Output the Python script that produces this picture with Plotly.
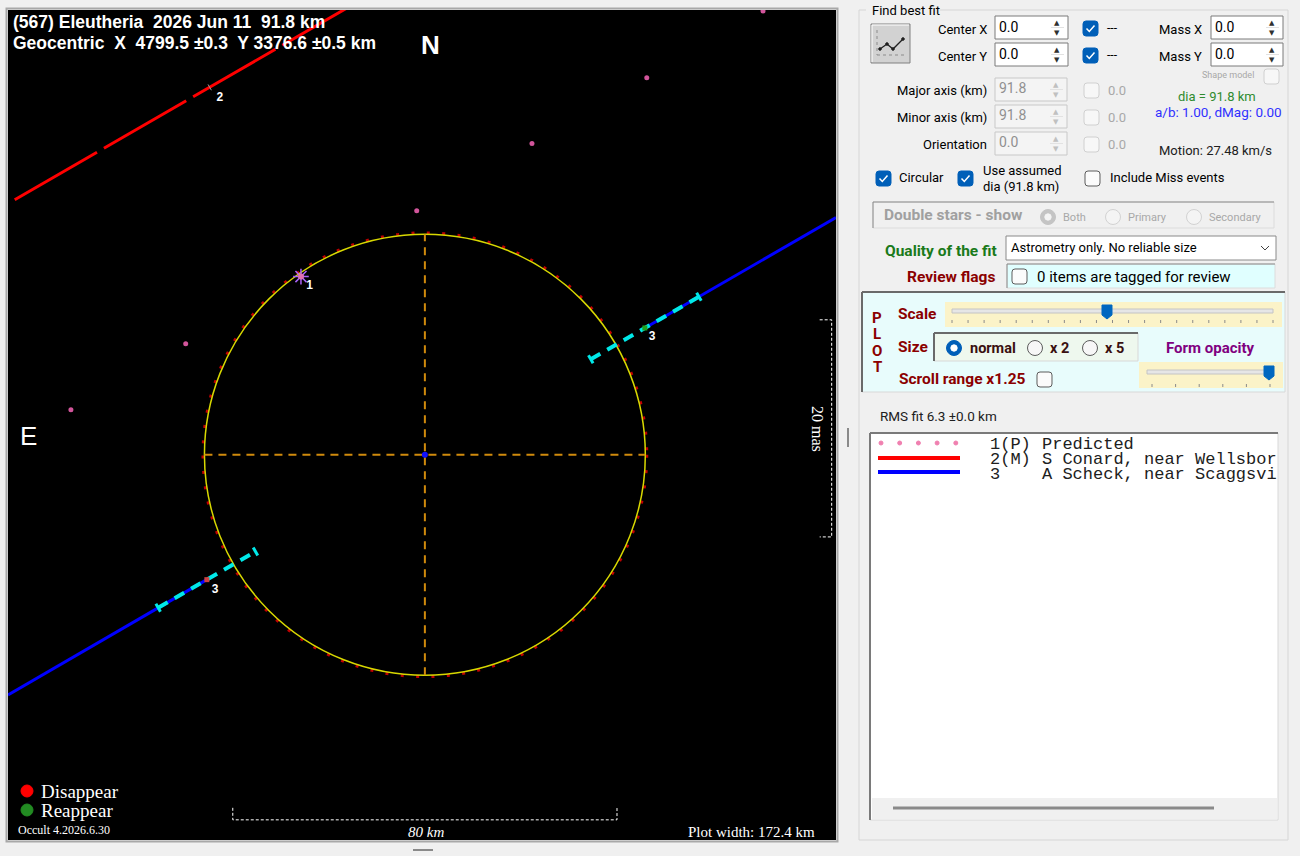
import numpy as np
import plotly.graph_objects as go

W, H = 1300, 856
UI = "Roboto"
MONO = "Liberation Mono"
SERIF = "Liberation Serif"
SANS = "Liberation Sans"
BOLD = 15.5

# ---------------- Daten (km, Plotebene: +x rechts, +y oben) ----------------
plot_width_km = 172.4
x_range = [-86.8, 85.6]
y_range = [-80.2, 92.6]
diameter_km = 91.8
fit_center = [0.0, 0.0]
motion_kms = 27.48
track_deg = 30.0  # Richtung der Relativbewegung im Plot

# vorhergesagte Bahn, ein Punkt pro Sekunde
pred_x = [-73.7, -49.8, -25.8, -1.7, 22.3, 46.2, 70.4]
pred_y = [9.4, 23.1, 37.1, 50.8, 64.8, 78.5, 92.4]
pred_ref = [-25.8, 37.1]  # Ereignis 1 (P)

# Sehne 2 (M) - S Conard, Miss
miss_x = [-85.4, -14.0]
miss_y = [53.1, 94.3]
miss_tag = [-44.8, 76.5]

# Sehne 3 - A Scheck: Start, D, R, Ende
chord_x = [-86.8, -45.4, 45.8, 85.6]
chord_y = [-50.0, -26.0, 26.4, 49.4]
event_err = [11.7, 13.0]  # Unsicherheit D, R (km)

# Massstaebe
scale_km = 80
mas_bar_km = 45.2  # 20 mas

# Listeneintraege
list_ids = ["1(P)", "2(M)", "3"]
list_names = ["Predicted", "S Conard, near Wellsbor", "A Scheck, near Scaggsvi"]

# ---------------- Hilfsfunktionen (Pixel -> paper) ----------------
shapes, annots = [], []


def X(x):
    return x / W


def Y(y):
    return 1 - y / H


def rect(x0, y0, x1, y1, fill="rgba(0,0,0,0)", line="#8a8a8a", width=1, layer="above"):
    shapes.append(dict(type="rect", xref="paper", yref="paper", x0=X(x0), x1=X(x1), y0=Y(y1), y1=Y(y0),
                       fillcolor=fill, line=dict(color=line, width=width), layer=layer))


def seg(x0, y0, x1, y1, color, width=1, dash="solid"):
    shapes.append(dict(type="line", xref="paper", yref="paper", x0=X(x0), x1=X(x1), y0=Y(y0), y1=Y(y1),
                       line=dict(color=color, width=width, dash=dash)))


def path(pts, fill="rgba(0,0,0,0)", line="#000", width=1, close=True):
    d = "M" + " L".join(f"{X(a):.5f},{Y(b):.5f}" for a, b in pts) + (" Z" if close else "")
    shapes.append(dict(type="path", xref="paper", yref="paper", path=d, fillcolor=fill,
                       line=dict(color=line, width=width)))


def rrect(x0, y0, x1, y1, r, fill, line, width=1):
    def p(a, b):
        return f"{X(a):.5f},{Y(b):.5f}"
    d = (f"M{p(x0 + r, y0)} L{p(x1 - r, y0)} Q{p(x1, y0)} {p(x1, y0 + r)} L{p(x1, y1 - r)} "
         f"Q{p(x1, y1)} {p(x1 - r, y1)} L{p(x0 + r, y1)} Q{p(x0, y1)} {p(x0, y1 - r)} "
         f"L{p(x0, y0 + r)} Q{p(x0, y0)} {p(x0 + r, y0)} Z")
    shapes.append(dict(type="path", xref="paper", yref="paper", path=d, fillcolor=fill,
                       line=dict(color=line, width=width)))


def dot(cx, cy, r, fill, line=None, width=1):
    shapes.append(dict(type="circle", xref="paper", yref="paper", x0=X(cx - r), x1=X(cx + r),
                       y0=Y(cy + r), y1=Y(cy - r), fillcolor=fill, line=dict(color=line or fill, width=width)))


def text(x, y, s, size=13, color="#000", anchor="left", family=UI, angle=0):
    annots.append(dict(xref="paper", yref="paper", x=X(x), y=Y(y), text=s, showarrow=False,
                       xanchor=anchor, yanchor="middle", textangle=angle, borderpad=0,
                       font=dict(family=family, size=size, color=color)))


def checkbox(x, y, checked=False, disabled=False):
    if checked:
        rrect(x, y, x + 15, y + 15, 3, "#005fb8", "#005fb8")
        path([(x + 3.5, y + 7.5), (x + 6.3, y + 10.5), (x + 11.5, y + 4.5)], line="white", width=1.5, close=False)
    elif disabled:
        rrect(x, y, x + 15, y + 15, 3, "#f7f7f7", "#d0d0d0")
    else:
        rrect(x, y, x + 15, y + 15, 3, "#fbfbfb", "#5c5c5c")


def spinbox(x0, y0, x1, y1, value, disabled=False):
    rect(x0, y0, x1, y1, "#f4f4f4" if disabled else "white", "#c8c8c8" if disabled else "#7a7a7a")
    text(x0 + 3, (y0 + y1) / 2 - 1, value, 14, "#909090" if disabled else "#000")
    ac = "#c0c0c0" if disabled else "#303030"
    seg(x1 - 17, (y0 + y1) / 2, x1 - 4, (y0 + y1) / 2, "#e2e2e2", 1)
    text(x1 - 11, y0 + 7, "▲", 7, ac, "center", "DejaVu Sans")
    text(x1 - 11, y1 - 6, "▼", 7, ac, "center", "DejaVu Sans")


def radio(cx, cy, state):
    if state == "on":
        dot(cx, cy, 7.5, "#005fb8")
        dot(cx, cy, 3.2, "white")
    elif state == "dis_on":
        dot(cx, cy, 7.5, "#c4c4c4", "#c4c4c4")
        dot(cx, cy, 3.2, "#f4f4f4")
    elif state == "dis_off":
        dot(cx, cy, 7.5, "#f4f4f4", "#d2d2d2")
    else:
        dot(cx, cy, 7.5, "#f7f7f7", "#5c5c5c")


def slider(tx0, tx1, ty, thumb_x, ticks, tick_y):
    rect(tx0, ty - 2, tx1, ty + 2, "#e6e6e6", "#c4c4c4")
    path([(thumb_x - 5, ty - 6), (thumb_x + 5, ty - 6), (thumb_x + 5, ty + 4), (thumb_x, ty + 8),
          (thumb_x - 5, ty + 4)], fill="#0067c0", line="#0067c0")
    for t in ticks:
        seg(t, tick_y, t, tick_y + 3, "#8a8a8a", 1)


# ---------------- Plotbereich ----------------
rect(8, 10, 836, 840, "black", "black", 0, layer="below")
rect(6.5, 8.5, 837.5, 841.5, "rgba(0,0,0,0)", "#a8a8a8", 2)

fig = go.Figure()
R = diameter_km / 2
cx0, cy0 = fit_center
ux, uy = np.cos(np.radians(track_deg)), np.sin(np.radians(track_deg))
nx, ny = -uy, ux

# Profil: rote Punkte + gelbe Kontur
rr = R + 0.3
shapes.append(dict(type="circle", xref="x", yref="y", x0=cx0 - rr, x1=cx0 + rr,
                   y0=cy0 - rr, y1=cy0 + rr, layer="below",
                   line=dict(color="#c00000", width=3, dash="3px,12.4px")))
shapes.append(dict(type="circle", xref="x", yref="y", x0=cx0 - R, x1=cx0 + R, y0=cy0 - R, y1=cy0 + R,
                   layer="below", line=dict(color="#d8d800", width=1.5)))

# Achsenkreuz
fig.add_trace(go.Scatter(x=[cx0 - R, cx0 + R, None, cx0, cx0], y=[cy0, cy0, None, cy0 - R, cy0 + R],
                         mode="lines", line=dict(color="#d08a0c", width=2, dash="8px,6px"), hoverinfo="skip"))
fig.add_trace(go.Scatter(x=[cx0], y=[cy0], mode="markers", marker=dict(color="#1010ff", size=6)))

# vorhergesagte Bahn
fig.add_trace(go.Scatter(x=pred_x, y=pred_y, mode="markers", marker=dict(color="#d2559b", size=5)))
fig.add_trace(go.Scatter(x=[pred_ref[0]], y=[pred_ref[1]], mode="markers",
                         marker=dict(symbol="asterisk-open", size=13, line=dict(color="#9a9ab8", width=1.5))))
fig.add_trace(go.Scatter(x=[pred_ref[0]], y=[pred_ref[1]], mode="markers", marker=dict(color="#e070b0", size=6)))

# Sehne 2 (Miss)
fig.add_trace(go.Scatter(x=miss_x, y=miss_y, mode="lines", line=dict(color="#ff0000", width=3, dash="95px,8px")))
fig.add_trace(go.Scatter(x=[miss_tag[0] - 0.7 * nx, miss_tag[0] + 0.7 * nx],
                         y=[miss_tag[1] - 0.7 * ny, miss_tag[1] + 0.7 * ny],
                         mode="lines", line=dict(color="#9a9a9a", width=1)))

# Sehne 3
fig.add_trace(go.Scatter(x=[chord_x[0], chord_x[1], None, chord_x[2], chord_x[3]],
                         y=[chord_y[0], chord_y[1], None, chord_y[2], chord_y[3]],
                         mode="lines", line=dict(color="#0000ff", width=3)))
for ex, ey, err in [(chord_x[1], chord_y[1], event_err[0]), (chord_x[2], chord_y[2], event_err[1])]:
    ax, ay = ex - err * ux, ey - err * uy
    bx, by = ex + err * ux, ey + err * uy
    fig.add_trace(go.Scatter(x=[ax, bx], y=[ay, by], mode="lines",
                             line=dict(color="#00e8e8", width=4, dash="11px,8px")))
    tx, ty = [], []
    for px_, py_ in [(ax, ay), (bx, by)]:
        tx += [px_ - 0.95 * nx, px_ + 0.95 * nx, None]
        ty += [py_ - 0.95 * ny, py_ + 0.95 * ny, None]
    fig.add_trace(go.Scatter(x=tx, y=ty, mode="lines", line=dict(color="#00e8e8", width=3)))
fig.add_trace(go.Scatter(x=[chord_x[1]], y=[chord_y[1]], mode="markers",
                         marker=dict(color="#d04040", size=5, symbol="square")))
fig.add_trace(go.Scatter(x=[chord_x[2]], y=[chord_y[2]], mode="markers",
                         marker=dict(color="#20a020", size=5, symbol="square")))

# Nummern
lab_x = [pred_ref[0] + 1.1, miss_tag[0] + 1.4, chord_x[1] + 1.0, chord_x[2] + 0.8]
lab_y = [pred_ref[1] - 1.9, miss_tag[1] - 2.3, chord_y[1] - 2.1, chord_y[2] - 1.9]
fig.add_trace(go.Scatter(x=lab_x, y=lab_y, mode="text", text=["<b>1</b>", "<b>2</b>", "<b>3</b>", "<b>3</b>"],
                         textposition="middle right",
                         textfont=dict(family=SANS, size=12, color="white")))

# Massstaebe
bar_y, tick_y = -76.0, -73.5
shapes.append(dict(type="path", xref="x", yref="y",
                   path=f"M{-scale_km / 2},{tick_y} L{-scale_km / 2},{bar_y} L{scale_km / 2},{bar_y} L{scale_km / 2},{tick_y}",
                   line=dict(color="white", width=1, dash="3px,2px")))
mas_x, mas_tick = 84.7, 82.2
mas_top = 28.1
shapes.append(dict(type="path", xref="x", yref="y",
                   path=f"M{mas_tick},{mas_top} L{mas_x},{mas_top} L{mas_x},{mas_top - mas_bar_km} L{mas_tick},{mas_top - mas_bar_km}",
                   line=dict(color="white", width=1, dash="3px,2px")))

# Plot-Beschriftungen
text(12, 22, f"<b>(567) Eleutheria  2026 Jun 11  {diameter_km} km</b>", 17.5, "white", family=SANS)
text(12, 43, "<b>Geocentric  X  4799.5 ±0.3  Y 3376.6 ±0.5 km</b>", 17.5, "white", family=SANS)
text(430, 45, "<b>N</b>", 26, "white", "center", SANS)
text(29, 436, "E", 26, "white", "center", SANS)
text(817, 429, "20 mas", 16, "white", "center", SERIF, angle=90)
text(426, 832, f"<i>{scale_km} km</i>", 15, "white", "center", SERIF)
text(816, 832, f"Plot width: {plot_width_km} km", 15, "white", "right", SERIF)
text(17, 830, "Occult 4.2026.6.30", 12, "white", "left", SERIF)
dot(27, 791, 6, "#ff0000")
text(40, 791, "Disappear", 19, "white", "left", SERIF)
dot(27, 810, 6, "#228b22")
text(40, 810, "Reappear", 19, "white", "left", SERIF)

# Griffe
seg(848, 428, 848, 447, "#8a8a8a", 2)
seg(413, 850, 433, 850, "#8a8a8a", 2)

# ---------------- rechtes Formular ----------------
rect(859, 10, 1288, 840, "rgba(0,0,0,0)", "#d6d6d6", 1)
rect(866, 5, 940, 15, "#f0f0f0", "#f0f0f0", 0)
text(871, 11, "Find best fit", 13)

# Knopf
rect(871, 24, 910, 63, "#d2d2d2", "#808080", 1)
seg(872, 25, 909, 25, "white", 1)
seg(872, 25, 872, 62, "white", 1)
seg(877, 30, 877, 55, "#8c8c8c", 1, "dot")
seg(877, 55, 904, 55, "#8c8c8c", 1, "dot")
zig = [(880, 49), (887, 44), (893, 49), (903, 39)]
path(zig, line="#202020", width=1.3, close=False)
for zx, zy in zig:
    dot(zx, zy, 1.3, "#202020")

# Center / Mass
text(988, 29, "Center X", 13, anchor="right")
spinbox(995, 16, 1068, 39, "0.0")
checkbox(1083, 21, checked=True)
text(1106, 28, "---", 12)
text(1203, 30, "Mass X", 13, anchor="right")
spinbox(1211, 16, 1283, 39, "0.0")

text(988, 56, "Center Y", 13, anchor="right")
spinbox(995, 43, 1068, 66, "0.0")
checkbox(1083, 48, checked=True)
text(1106, 55, "---", 12)
text(1203, 57, "Mass Y", 13, anchor="right")
spinbox(1211, 43, 1283, 66, "0.0")

text(1228, 75, "Shape model", 9, "#a8a8a8", "center")
checkbox(1264, 69, disabled=True)

for lbl, yy, val in [("Major axis (km)", 90, "91.8"), ("Minor axis (km)", 117, "91.8"), ("Orientation", 144, "0.0")]:
    text(988, yy, lbl, 13, anchor="right")
    spinbox(995, yy - 12, 1067, yy + 11, val, disabled=True)
    checkbox(1084, yy - 7, disabled=True)
    text(1107, yy, "0.0", 13, "#a8a8a8")

text(1217, 96, f"dia = {diameter_km} km", 13, "#2e8b2e", "center")
text(1218, 112, "a/b: 1.00, dMag: 0.00", 13.5, "#3030ff", "center")
text(1215, 150, f"Motion: {motion_kms} km/s", 13, "#202020", "center")

checkbox(876, 171, checked=True)
text(898, 178, "Circular", 13)
checkbox(958, 171, checked=True)
text(982, 170, "Use assumed", 13)
text(982, 186, f"dia ({diameter_km} km)", 13)
checkbox(1085, 171)
text(1109, 178, "Include Miss events", 13)

# Double stars
rect(873, 202, 1274, 228, "#f0f0f0", "#dcdcdc", 1)
seg(873, 202, 1274, 202, "#8a8a8a", 1)
seg(873, 202, 873, 228, "#8a8a8a", 1)
text(883, 215, "<b>Double stars - show</b>", BOLD, "#a0a0a0")
radio(1048, 217, "dis_on")
text(1062, 217, "Both", 11, "#a8a8a8")
radio(1113, 217, "dis_off")
text(1127, 217, "Primary", 11, "#a8a8a8")
radio(1194, 217, "dis_off")
text(1208, 217, "Secondary", 11, "#a8a8a8")

# Qualitaet
text(998, 251, "<b>Quality of the fit</b>", BOLD, "#1a7a1a", "right")
rect(1006, 236, 1276, 260, "white", "#8a8a8a", 1)
text(1010, 248, "Astrometry only. No reliable size", 13)
path([(1261, 246), (1265, 250), (1269, 246)], line="#404040", width=1, close=False)

text(996, 277, "<b>Review flags</b>", BOLD, "#8b0000", "right")
rect(1007, 264, 1275, 288, "#e0ffff", "#dcdcdc", 1)
seg(1007, 264, 1275, 264, "#8a8a8a", 1)
seg(1007, 264, 1007, 288, "#8a8a8a", 1)
checkbox(1012, 269)
text(1036, 277, "0 items are tagged for review", 15)

# PLOT-Feld
rect(862, 292, 1285, 392, "#e8fcfc", "#d8d8d8", 1)
seg(862, 292, 1285, 292, "#6a6a6a", 2)
seg(862, 292, 862, 392, "#6a6a6a", 2)
for i, ch in enumerate("PLOT"):
    text(877, 318 + 16.3 * i, f"<b>{ch}</b>", 15, "#8b0000", "center")
text(897, 314, "<b>Scale</b>", BOLD, "#8b0000")
rect(945, 302, 1282, 327, "#fbf3c8", "#fbf3c8", 0)
slider(952, 1273, 311, 1107, [952 + 16.05 * k for k in range(21)], 320)
text(897, 347, "<b>Size</b>", BOLD, "#8b0000")
rect(934, 333, 1138, 361, "#eef8ee", "#d8d8d8", 1)
seg(934, 333, 1138, 333, "#6a6a6a", 2)
seg(934, 333, 934, 361, "#6a6a6a", 2)
radio(954, 348, "on")
text(969, 348, "<b>normal</b>", 14.5, "#3a1010")
radio(1035, 348, "off")
text(1049, 348, "<b>x 2</b>", 14.5, "#3a1010")
radio(1090, 348, "off")
text(1104, 348, "<b>x 5</b>", 14.5, "#3a1010")
text(1210, 348, "<b>Form opacity</b>", 15, "#800080", "center")
rect(1139, 362, 1283, 388, "#fbf3c8", "#fbf3c8", 0)
slider(1147, 1273, 372, 1269, [1152 + 23.6 * k for k in range(6)], 384)
text(898, 379, "<b>Scroll range x1.25</b>", BOLD, "#8b0000")
checkbox(1037, 372)

text(879, 416, "RMS fit 6.3 ±0.0 km", 13.5, "#202020")

# Liste
rect(870, 433, 1278, 820, "white", "#d8d8d8", 1)
seg(870, 433, 1278, 433, "#7a7a7a", 2)
seg(870, 433, 870, 820, "#7a7a7a", 2)
rect(872, 798, 1277, 819, "#f0f0f0", "#f0f0f0", 0)
seg(893, 808, 1214, 808, "#8a8a8a", 3)
for k in range(5):
    dot(881 + 18.7 * k, 443, 2, "#f080b0")
seg(878, 458, 960, 458, "#ff0000", 4)
seg(878, 472, 960, 472, "#0000ff", 4)
for i, (lid, nm) in enumerate(zip(list_ids, list_names)):
    text(989, 444 + 15.3 * i, lid, 17, "#202020", family=MONO)
    text(1041, 444 + 15.3 * i, nm, 17, "#202020", family=MONO)

fig.update_layout(
    width=W, height=H, autosize=False,
    margin=dict(l=0, r=0, t=0, b=0),
    paper_bgcolor="#f0f0f0", plot_bgcolor="black",
    showlegend=False,
    xaxis=dict(domain=[X(8), X(836)], range=x_range, visible=False, fixedrange=True),
    yaxis=dict(domain=[Y(840), Y(10)], range=y_range, visible=False, fixedrange=True),
    shapes=shapes, annotations=annots,
)

fig.write_html("out.html", config={"displayModeBar": False},
               post_script="document.body.style.margin='0px';")
